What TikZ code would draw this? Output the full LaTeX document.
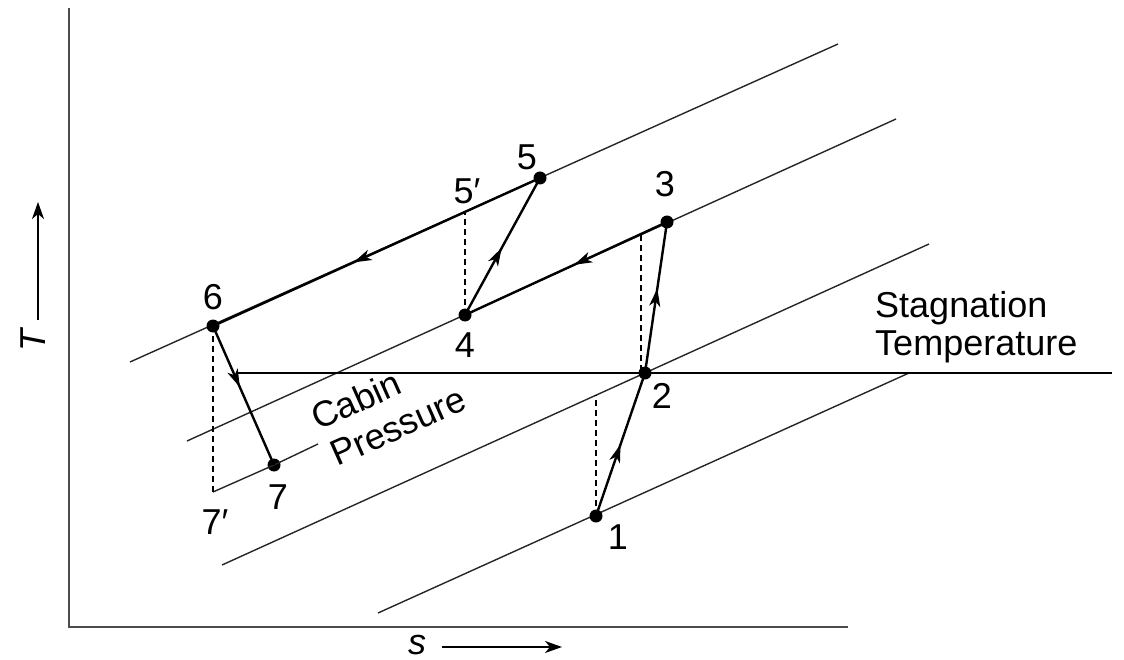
\documentclass[tikz,border=0pt]{standalone}
\usepackage{fontspec}
\setmainfont{Liberation Sans}
\usetikzlibrary{arrows.meta,decorations.markings}
\begin{document}
\begin{tikzpicture}[x=1pt,y=-1pt,
  lbl/.style={font=\fontsize{36}{40}\selectfont, inner sep=0pt},
  isobar/.style={line width=1.4pt, black!85},
  proc/.style={line width=2.4pt},
  axisline/.style={line width=2pt, black!70},
  dot/.style={circle, fill=black, inner sep=0pt, minimum size=13pt},
  dashline/.style={dash pattern=on 6pt off 4pt, line width=1.4pt},
  midarrow/.style={postaction={decorate}, decoration={markings, mark=at position #1 with {\arrow{Stealth[length=18pt,width=11pt,inset=5pt]}}}},
  axarrow/.style={line width=1.6pt, -{Stealth[length=17pt,width=12pt,inset=5pt]}},
]
\useasboundingbox (0,0) rectangle (1124,660);

% axes
\coordinate (o) at (69,627);
\coordinate (ytop) at (69,8);
\coordinate (xend) at (848,627);
\draw[axisline] (ytop) -- (o) -- (xend);

\coordinate (tb) at (38,320);
\coordinate (tt) at (38,202);
\draw[axarrow] (tb) -- (tt);
\node[lbl, rotate=90] (Tlab) at (33,341) {\itshape T};

\coordinate (sb) at (442,647);
\coordinate (se) at (562,647);
\draw[axarrow] (sb) -- (se);
\node[lbl] (slab) at (417,645) {\itshape s};

% constant-pressure lines
\coordinate (A0) at (130,362); \coordinate (A1) at (838,44);
\coordinate (B0) at (187,441); \coordinate (B1) at (896,119);
\coordinate (C0) at (222,565); \coordinate (C1) at (929,244);
\coordinate (D1) at (318,444);
\coordinate (E0) at (378,613); \coordinate (E1) at (909,373);
\draw[isobar] (A0) -- (A1);
\draw[isobar] (B0) -- (B1);
\draw[isobar] (C0) -- (C1);
\draw[isobar] (E0) -- (E1);

% stagnation temperature line
\coordinate (S0) at (237,373); \coordinate (S1) at (1112,373);
\draw[line width=1.9pt] (S0) -- (S1);

% state points
\node[dot] (p1) at (596,516) {};
\node[dot] (p2) at (645,373) {};
\node[dot] (p3) at (667,222) {};
\node[dot] (p4) at (465,315) {};
\node[dot] (p5) at (540,178) {};
\node[dot] (p6) at (213,326) {};
\node[dot] (p7) at (274,465) {};
\coordinate (q7) at (213,492);
\coordinate (q5) at (465,212);
\coordinate (q2) at (596,395);
\coordinate (q3) at (641,235);
\coordinate (q2b) at (641,371);

\draw[isobar] (q7) -- (p7.center) -- (D1);

% dashed isentropes
\draw[dashline] (p1.center) -- (q2);
\draw[dashline] (q2b) -- (q3);
\draw[dashline] (p4.center) -- (q5);
\draw[dashline] (p6.center) -- (q7);

% process lines
\draw[proc, midarrow=0.5] (p1.center) -- (p2.center);
\draw[proc, midarrow=0.56] (p2.center) -- (p3.center);
\draw[proc, midarrow=0.46] (p3.center) -- (p4.center);
\draw[proc, midarrow=0.49] (p4.center) -- (p5.center);
\draw[proc, midarrow=0.57] (p5.center) -- (p6.center);
\draw[proc, midarrow=0.44] (p6.center) -- (p7.center);

% labels
\node[lbl] (l1) at (618,537) {1};
\node[lbl] (l2) at (662,396) {2};
\node[lbl] (l3) at (665,184) {3};
\node[lbl] (l4) at (465,345) {4};
\node[lbl] (l5) at (527,157) {5};
\node[lbl] (l5p) at (467,191) {5′};
\node[lbl] (l6) at (213,297) {6};
\node[lbl] (l7) at (278,497) {7};
\node[lbl] (l7p) at (215,522) {7′};

\node[lbl, anchor=base west, rotate=24] (cab) at (318,431) {Cabin};
\node[lbl, anchor=base west, rotate=24] (pre) at (337,467) {Pressure};

\node[lbl, anchor=base west] (stag) at (875,317) {Stagnation};
\node[lbl, anchor=base west] (temp) at (875,355) {Temperature};
\end{tikzpicture}
\end{document}
